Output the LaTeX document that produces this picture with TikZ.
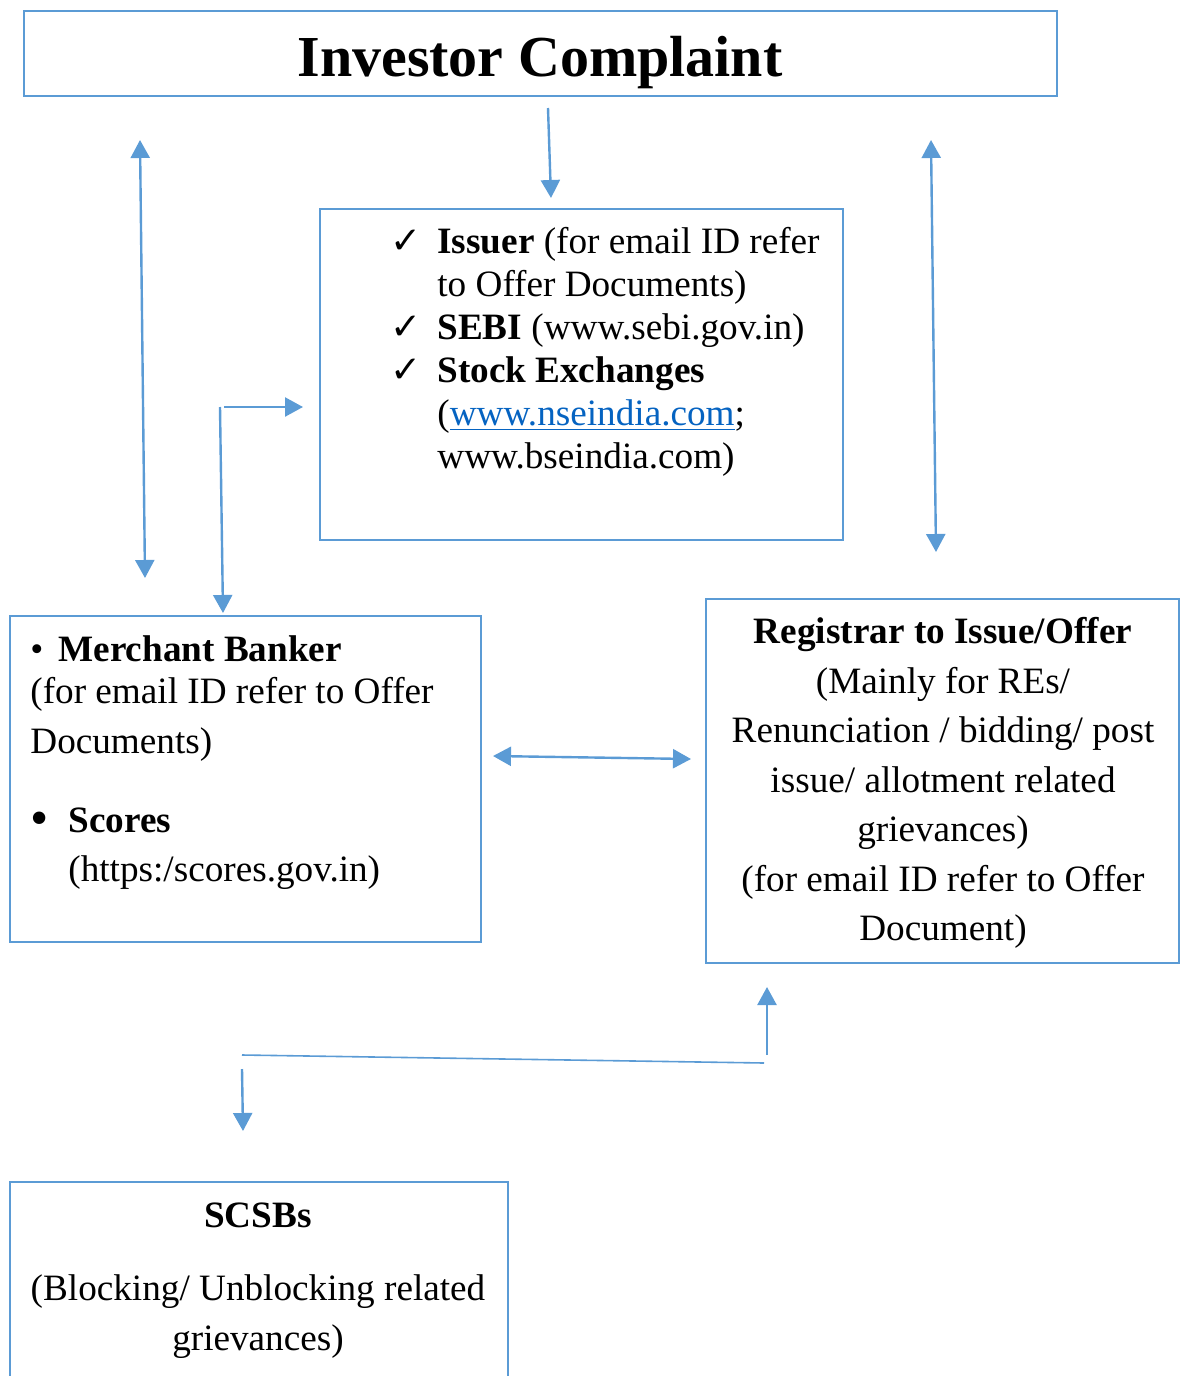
\documentclass[tikz,border=0pt]{standalone}
\usepackage{fontspec}
\usepackage{graphicx}
\setmainfont{Liberation Serif}
\newfontfamily\symbolfont{DejaVu Sans}
\usetikzlibrary{arrows.meta,positioning}
\definecolor{boxblue}{HTML}{5B9BD5}
\definecolor{urlblue}{HTML}{0563C1}
\newcommand{\bodysize}{\fontsize{18.6pt}{24.75pt}\selectfont}
\newcommand{\tightsize}{\fontsize{18.6pt}{21.5pt}\selectfont}
\newcommand{\tick}{\makebox[23.5pt][l]{{\symbolfont ✓}}}
\newcommand{\tickgap}{\hspace*{23.5pt}}

\begin{document}
\begin{tikzpicture}[
  x=0.5pt, y=-0.5pt,
  frame/.style={draw=boxblue, line width=1pt, inner sep=0pt, anchor=north west},
  link/.style={draw=boxblue, line width=1.2pt, -{Triangle[length=9pt,width=9.5pt]}},
  twoway/.style={link, {Triangle[length=9pt,width=9.5pt]}-{Triangle[length=9pt,width=9.5pt]}},
  words/.style={inner sep=0pt, font=\bodysize}
]
  \useasboundingbox (0,0) rectangle (1180,1376);
  \clip (0,0) rectangle (1180,1376);

  % boxes
  \node[frame, minimum width=516.5pt, minimum height=42.5pt] (title) at (23,10) {};
  \node[frame, minimum width=261.5pt, minimum height=165.5pt] (issuers) at (319,208) {};
  \node[frame, minimum width=235.5pt, minimum height=163pt] (banker) at (9,615) {};
  \node[frame, minimum width=236.5pt, minimum height=182pt] (registrar) at (705,598) {};
  \node[frame, minimum width=249pt, minimum height=110pt] (scsb) at (9,1181) {};

  % texts
  \node[inner sep=0pt, anchor=base, font=\fontsize{29pt}{34pt}\selectfont\bfseries] (titletext) at (540,76) {Investor Complaint};
  \node[words, font=\tightsize, align=left, anchor=north west] (issuertext) at (390,227) {%
    \tick\textbf{Issuer} (for email ID refer\\
    \tickgap to Offer Documents)\\
    \tick\textbf{SEBI} (www.sebi.gov.in)\\
    \tick\textbf{Stock Exchanges}\\
    \tickgap(\textcolor{urlblue}{\underline{www.nseindia.com}};\\
    \tickgap www.bseindia.com)};
  \node[words, align=left, anchor=north west] (bankertext) at (30,635) {%
    \makebox[14pt][l]{\textbullet}\textbf{Merchant Banker}\\[-3.5pt]
    (for email ID refer to Offer\\
    Documents)};
  \node[words, align=left, anchor=north west] (scorestext) at (30,807) {%
    \makebox[19pt][l]{\raisebox{-1.5pt}{\scalebox{1.4}{\textbullet}}}\textbf{Scores}\\
    \hspace*{19pt}(https:/scores.gov.in)};
  \node[words, align=center, anchor=north] (registrartext) at (943,617) {%
    \textbf{Registrar to Issue/Offer}\\
    (Mainly for REs/\\
    Renunciation / bidding/ post\\
    issue/ allotment related\\
    grievances)\\
    (for email ID refer to Offer\\
    Document)};
  \node[words, align=center, anchor=north] (scsbtext) at (258,1202) {%
    \textbf{SCSBs}\\[12pt]
    (Blocking/ Unblocking related\\
    grievances)};

  % arrow ends
  \coordinate (leftup) at (140,140);
  \coordinate (leftdown) at (145,578);
  \coordinate (midtop) at (548,108);
  \coordinate (midbot) at (551,198);
  \coordinate (rightup) at (931,140);
  \coordinate (rightdown) at (936,552);
  \coordinate (elbowtop) at (220,407);
  \coordinate (elbowbot) at (223,613);
  \coordinate (elbowstart) at (224,407);
  \coordinate (elbowend) at (303,407);
  \coordinate (crossleft) at (493,756);
  \coordinate (crossright) at (691,759);
  \coordinate (baseleft) at (242,1055);
  \coordinate (baseright) at (764,1063);
  \coordinate (risefoot) at (767,1055);
  \coordinate (risetip) at (767,987);
  \coordinate (dropfoot) at (242,1069);
  \coordinate (droptip) at (243,1131);

  % connectors
  \draw[twoway] (leftup) -- (leftdown);
  \draw[link] (midtop) -- (midbot);
  \draw[twoway] (rightup) -- (rightdown);
  \draw[link] (elbowtop) -- (elbowbot);
  \draw[link] (elbowstart) -- (elbowend);
  \draw[twoway] (crossleft) -- (crossright);
  \draw[draw=boxblue, line width=0.8pt] (baseleft) -- (baseright);
  \draw[link] (risefoot) -- (risetip);
  \draw[link] (dropfoot) -- (droptip);
\end{tikzpicture}
\end{document}
